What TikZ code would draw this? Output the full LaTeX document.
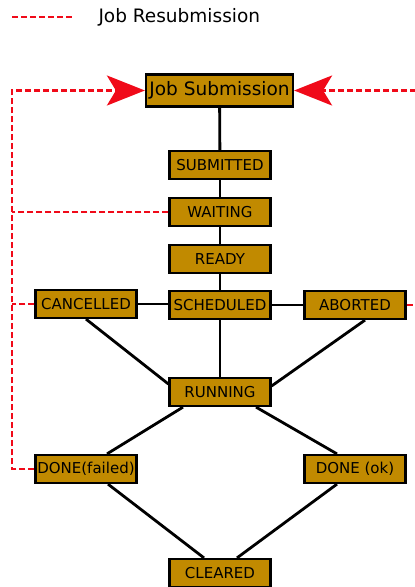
\documentclass[tikz,border=0pt]{standalone}
\usepackage{fontspec}
\setmainfont{DejaVu Sans}
\usetikzlibrary{arrows.meta}

\definecolor{boxfill}{RGB}{193,138,0}
\definecolor{resubred}{RGB}{240,10,25}

\begin{document}
\begin{tikzpicture}[x=1pt,y=-1pt,
  state/.style={draw=black,line width=2.2pt,fill=boxfill,minimum width=101pt,
    minimum height=28pt,inner sep=0pt,font=\fontsize{15}{16}\selectfont},
  link/.style={line width=2.8pt},
  resub/.style={draw=resubred,line width=2.6pt,dash pattern=on 6pt off 3pt},
  bigtip/.style={-{Stealth[length=38pt,width=30pt,inset=9pt,fill=resubred]}}]
\clip (0,0) rectangle (415,587);

% legend
\coordinate (leg1) at (12,17);
\coordinate (leg2) at (72,17);
\draw[resub] (leg1) -- (leg2);
\node[anchor=west,font=\fontsize{18.5}{20}\selectfont] (legtext) at (95,17) {Job Resubmission};

% states
\node[state,minimum width=147pt,minimum height=32pt,font=\fontsize{18.5}{20}\selectfont]
  (jobsub) at (219.5,90.5) {Job Submission};
\node[state] (submitted) at (220,165) {SUBMITTED};
\node[state] (waiting) at (220,212) {WAITING};
\node[state] (ready) at (220,259) {READY};
\node[state] (scheduled) at (220,305) {SCHEDULED};
\node[state] (cancelled) at (86,304) {CANCELLED};
\node[state] (aborted) at (355,305) {ABORTED};
\node[state] (running) at (220,392) {RUNNING};
\node[state] (dfail) at (86,469) {DONE(failed)};
\node[state] (dok) at (355,469) {DONE (ok)};
\node[state] (cleared) at (220,573) {CLEARED};

% normal flow
\draw[link] (jobsub) -- (submitted);
\draw[link] (submitted) -- (waiting);
\draw[link] (waiting) -- (ready);
\draw[link] (ready) -- (scheduled);
\draw[link] (scheduled) -- (running);
\draw[link] (cancelled) -- (scheduled.west |- cancelled);
\draw[link] (scheduled) -- (aborted);
\draw[link] (cancelled.south) -- ([yshift=8pt]running.west);
\draw[link] ([xshift=10pt]aborted.south) -- ([yshift=6pt]running.east);
\draw[link] ([xshift=-37pt]running.south) -- ([xshift=21pt]dfail.north);
\draw[link] ([xshift=36pt]running.south) -- ([xshift=-18pt]dok.north);
\draw[link] ([xshift=22pt]dfail.south) -- ([xshift=-16pt]cleared.north);
\draw[link] ([xshift=-18pt]dok.south) -- ([xshift=17pt]cleared.north);

% resubmission loops
\coordinate (ltop) at (12,90.5);
\coordinate (rtop) at (430,90.5);
\draw[resub,bigtip] (dfail.west) -| (ltop) -- (jobsub.west);
\draw[resub] (waiting.west) -- (waiting.west -| ltop);
\draw[resub] (cancelled.west) -- (cancelled.west -| ltop);
\draw[resub,bigtip] (aborted.east) -| (rtop) -- (jobsub.east);
\end{tikzpicture}
\end{document}
